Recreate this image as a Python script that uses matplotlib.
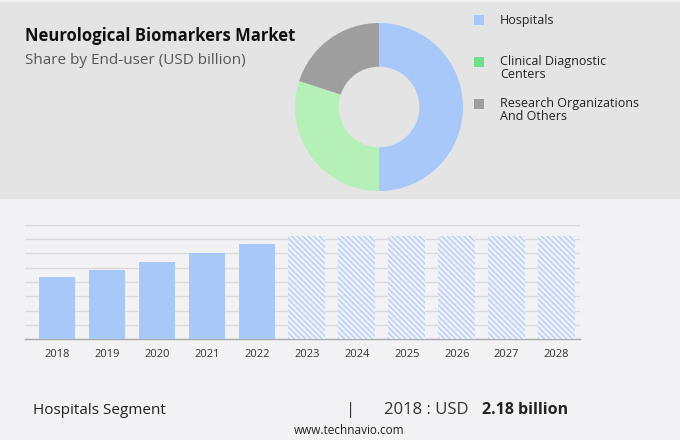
import matplotlib
matplotlib.use("Agg")
import matplotlib.pyplot as plt
from matplotlib.patches import Rectangle

# ---- data ----
segments = ["Hospitals", "Clinical Diagnostic\nCenters", "Research Organizations\nAnd Others"]
shares = [50, 30, 20]
donut_colors = ["#a8c8fa", "#b5f0b8", "#9e9e9e"]
legend_colors = ["#a8c8fa", "#6fe08c", "#9e9e9e"]

years = ["2018", "2019", "2020", "2021", "2022", "2023", "2024", "2025", "2026", "2027", "2028"]
values = [2.18, 2.43, 2.70, 3.00, 3.34, 3.62, 3.62, 3.62, 3.62, 3.62, 3.62]
n_actual = 5

plt.rcParams['font.family'] = ['Open Sans', 'DejaVu Sans']
plt.rcParams['hatch.linewidth'] = 1.1

W, H = 680, 440
fig = plt.figure(figsize=(W / 100, H / 100), dpi=100)
fig.patch.set_facecolor("#f2f2f4")

def fx(px):
    return px / W

def fy(py):
    return 1 - py / H

# top panel
fig.patches.append(Rectangle((0, fy(199)), 1, fy(2) - fy(199), transform=fig.transFigure,
                             facecolor="#e4e4e4", edgecolor="none", zorder=-5))

# title
fig.text(fx(25), fy(36), "Neurological Biomarkers Market", fontsize=12, fontweight="bold",
         color="#111111", va="center", ha="left")
fig.text(fx(25), fy(61), "Share by End-user (USD billion)", fontsize=11,
         color="#555555", va="center", ha="left")

# donut
cx, cy, r = 379, 107, 84
ax_d = fig.add_axes([fx(cx - r), fy(cy + r), fx(2 * r), fy(cy - r) - fy(cy + r)])
ax_d.pie(shares, colors=donut_colors, startangle=90, counterclock=False,
         wedgeprops=dict(width=0.52, edgecolor="none"))
ax_d.set_xlim(-1, 1)
ax_d.set_ylim(-1, 1)
ax_d.set_aspect("equal")
ax_d.axis("off")

# legend
leg_y = [20.5, 62, 104]
for lab, col, ly in zip(segments, legend_colors, leg_y):
    fig.patches.append(Rectangle((fx(474), fy(ly + 5)), fx(10), fy(ly - 5) - fy(ly + 5),
                                 transform=fig.transFigure, facecolor=col, edgecolor="none"))
    fig.text(fx(500), fy(ly - 6.5), lab, fontsize=9, color="#222222", va="top", ha="left",
             linespacing=0.95)

# bar chart
ax = fig.add_axes([fx(25), fy(339), fx(580) - fx(25), fy(225) - fy(339)])
ax.set_facecolor("none")
x = list(range(len(years)))
for i, (xi, v) in enumerate(zip(x, values)):
    if i < n_actual:
        ax.bar(xi, v, width=0.72, color="#a8c8fa", edgecolor="none", zorder=3)
    else:
        ax.bar(xi, v, width=0.74, facecolor="#eef1f9", edgecolor="#bdd1f4", linewidth=0,
               hatch="\\\\\\\\\\\\", zorder=3)
ax.set_xlim(-0.647, 10.47)
ax.set_ylim(0, 4)
ax.set_yticks([0.5 * k for k in range(9)])
ax.yaxis.grid(True, color="#dadada", linewidth=1)
ax.set_axisbelow(True)
ax.tick_params(axis="y", left=False, labelleft=False)
ax.tick_params(axis="x", length=0, pad=7, labelsize=8, labelcolor="#333333")
ax.set_xticks(x)
ax.set_xticklabels(years)
for s in ["top", "right", "left"]:
    ax.spines[s].set_visible(False)
ax.spines["bottom"].set_color("#aaaaaa")
ax.spines["bottom"].set_linewidth(1)

# footer
fig.text(fx(33), fy(410), "Hospitals Segment", fontsize=11, color="#222222", va="center", ha="left")
fig.text(fx(351), fy(410), "|", fontsize=12, color="#333333", va="center", ha="center")
fig.text(fx(384), fy(410), "2018 : USD ", fontsize=12, color="#333333", va="center", ha="left")
fig.text(fx(568), fy(410), "2.18 billion", fontsize=11.5, fontweight="bold", color="#222222",
         va="center", ha="right")
fig.text(fx(349), fy(430), "www.technavio.com", fontsize=8.5, color="#222222", va="center", ha="center")

fig.savefig("out.png", dpi=100, facecolor=fig.get_facecolor())
